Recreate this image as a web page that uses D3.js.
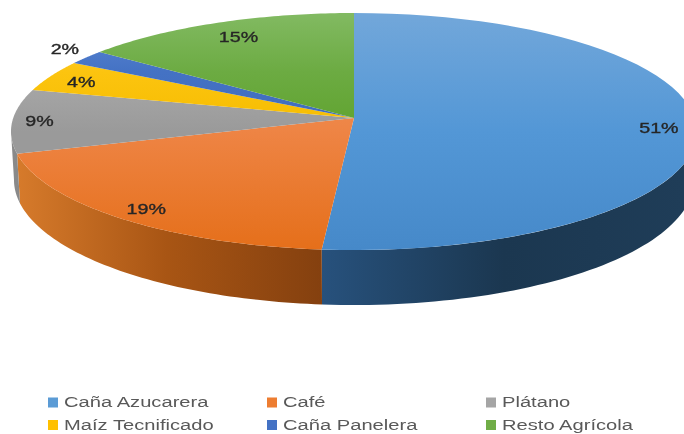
<!DOCTYPE html>
<html>
<head>
<meta charset="utf-8">
<script src="https://cdn.jsdelivr.net/npm/d3@7"></script>
<style>
  html, body { margin: 0; padding: 0; background: #fff; overflow: hidden; }
  svg { display: block; filter: blur(0.55px); }
  text { font-family: "Liberation Sans", Arial, sans-serif; }
</style>
</head>
<body>
<svg id="chart"></svg>
<script>
// slice sizes as they are drawn in the picture, the printed labels are kept apart
const categories = ['Caña Azucarera', 'Café', 'Plátano', 'Maíz Tecnificado', 'Caña Panelera', 'Resto Agrícola'];
const sliceShares = [51.5, 20.5, 8.7, 4.1, 1.9, 13.3];
const sliceLabels = ['51%', '19%', '9%', '4%', '2%', '15%'];

const topColors = [
  ['#72a7da', '#5397d6', '#4689c9'],
  ['#f09a6a', '#ee8444', '#e56f1a'],
  ['#bdbdbd', '#a9a9a9', '#9a9a9a'],
  ['#ffd24d', '#fcc40f', '#f5bc00'],
  ['#5f8ad6', '#4472c4', '#3f6cbc'],
  ['#82ba62', '#6cab42', '#60a32f']
];
const legendColors = ['#5b9bd5', '#ed7d31', '#a5a5a5', '#ffc000', '#4472c4', '#70ad47'];
const wallColors = [
  ['#27517c', '#1b3750', '#1f3d58'],
  ['#d87c2c', '#a85514', '#84400f'],
  ['#8a8a8a', '#777777', '#6a6a6a'],
  ['#c09000', '#c09000', '#c09000'],
  ['#2f5597', '#2f5597', '#2f5597'],
  ['#4a7d24', '#4a7d24', '#4a7d24']
];

const width = 684, height = 434;
const labelReach = [0.89, 0.9, 0.92, 0.9, 1.08, 0.83];
const labelNudge = [-7, 0, 0, 2, -4, -3];
const textStretch = 1.27; // the reference image is stretched sideways
const legendStretch = 1.39;

const svg = d3.select('#chart').attr('width', width).attr('height', height);
const defs = svg.append('defs');

// top rim, bottom rim of the disc
const xTop = d3.scaleLinear().domain([-1, 1]).range([11, 697]);
const yTop = d3.scaleLinear().domain([-1, 1]).range([13, 250]);
const xBase = d3.scaleLinear().domain([-1, 1]).range([14, 694]);
const yBase = d3.scaleLinear().domain([-1, 1]).range([55, 305]);

const apex = [xTop(0), yTop(-0.114)];

const rim = (xs, ys, t) => [xs(Math.sin(t)), ys(-Math.cos(t))];
const steps = (a, b) => d3.range(0, 61).map(i => a + (b - a) * i / 60);
const line = d3.line();

const arcs = d3.pie().sort(null).value(d => d)(sliceShares);

// gradients
topColors.forEach((c, i) => {
  const g = defs.append('linearGradient').attr('id', 'top' + i)
    .attr('gradientUnits', 'userSpaceOnUse')
    .attr('x1', 0).attr('x2', 0).attr('y1', yTop(-1)).attr('y2', yTop(1));
  // the small slices only span the upper half, so stretch them over that part
  g.selectAll('stop').data(c).join('stop')
    .attr('offset', (d, j) => (i < 2 ? j / 2 : j / 4))
    .attr('stop-color', d => d);
});
wallColors.forEach((c, i) => {
  const g = defs.append('linearGradient').attr('id', 'wall' + i)
    .attr('gradientUnits', 'userSpaceOnUse')
    .attr('x1', i === 0 ? xTop(-0.09) : xTop(-1)).attr('x2', i === 0 ? width : xTop(-0.09))
    .attr('y1', 0).attr('y2', 0);
  g.selectAll('stop').data(c).join('stop')
    .attr('offset', (d, j) => j / 2)
    .attr('stop-color', d => d);
});

// side wall, only the part that faces the viewer
svg.append('g').selectAll('path').data(arcs).join('path')
  .attr('d', d => {
    const a = Math.max(d.startAngle, Math.PI / 2), b = Math.min(d.endAngle, Math.PI * 1.5);
    if (b <= a) return null;
    const upper = steps(a, b).map(t => rim(xTop, yTop, t));
    const lower = steps(b, a).map(t => rim(xBase, yBase, t));
    return line(upper.concat(lower)) + 'Z';
  })
  .attr('fill', (d, i) => `url(#wall${i})`);

// top face
svg.append('g').selectAll('path').data(arcs).join('path')
  .attr('d', d => line([apex].concat(steps(d.startAngle, d.endAngle).map(t => rim(xTop, yTop, t)))) + 'Z')
  .attr('fill', (d, i) => `url(#top${i})`);

// data labels
svg.append('g').selectAll('text').data(arcs).join('text')
  .attr('transform', (d, i) => {
    const p = rim(xTop, yTop, (d.startAngle + d.endAngle) / 2);
    const x = apex[0] + (p[0] - apex[0]) * labelReach[i];
    const y = apex[1] + (p[1] - apex[1]) * labelReach[i] + labelNudge[i];
    return `translate(${x},${y}) scale(${textStretch},1)`;
  })
  .attr('text-anchor', 'middle')
  .attr('dominant-baseline', 'central')
  .attr('font-size', 15.5)
  .attr('fill', '#262626')
  .attr('stroke', '#262626')
  .attr('stroke-width', 0.35)
  .text((d, i) => sliceLabels[i]);

// legend, 3 columns by 2 rows
const legendX = d3.scalePoint().domain([0, 1, 2]).range([48, 486]);
const legendY = d3.scalePoint().domain([0, 1]).range([402.5, 425]);

const legend = svg.append('g').selectAll('g').data(categories).join('g')
  .attr('transform', (d, i) => `translate(${legendX(i % 3)},${legendY(Math.floor(i / 3))})`);
legend.append('rect')
  .attr('x', 0).attr('y', -5).attr('width', 10).attr('height', 10)
  .attr('fill', (d, i) => legendColors[i]);
legend.append('text')
  .attr('transform', `translate(16,0) scale(${legendStretch},1)`)
  .attr('dominant-baseline', 'central')
  .attr('font-size', 14.5)
  .attr('fill', '#595959')
  .text(d => d);
</script>
</body>
</html>
